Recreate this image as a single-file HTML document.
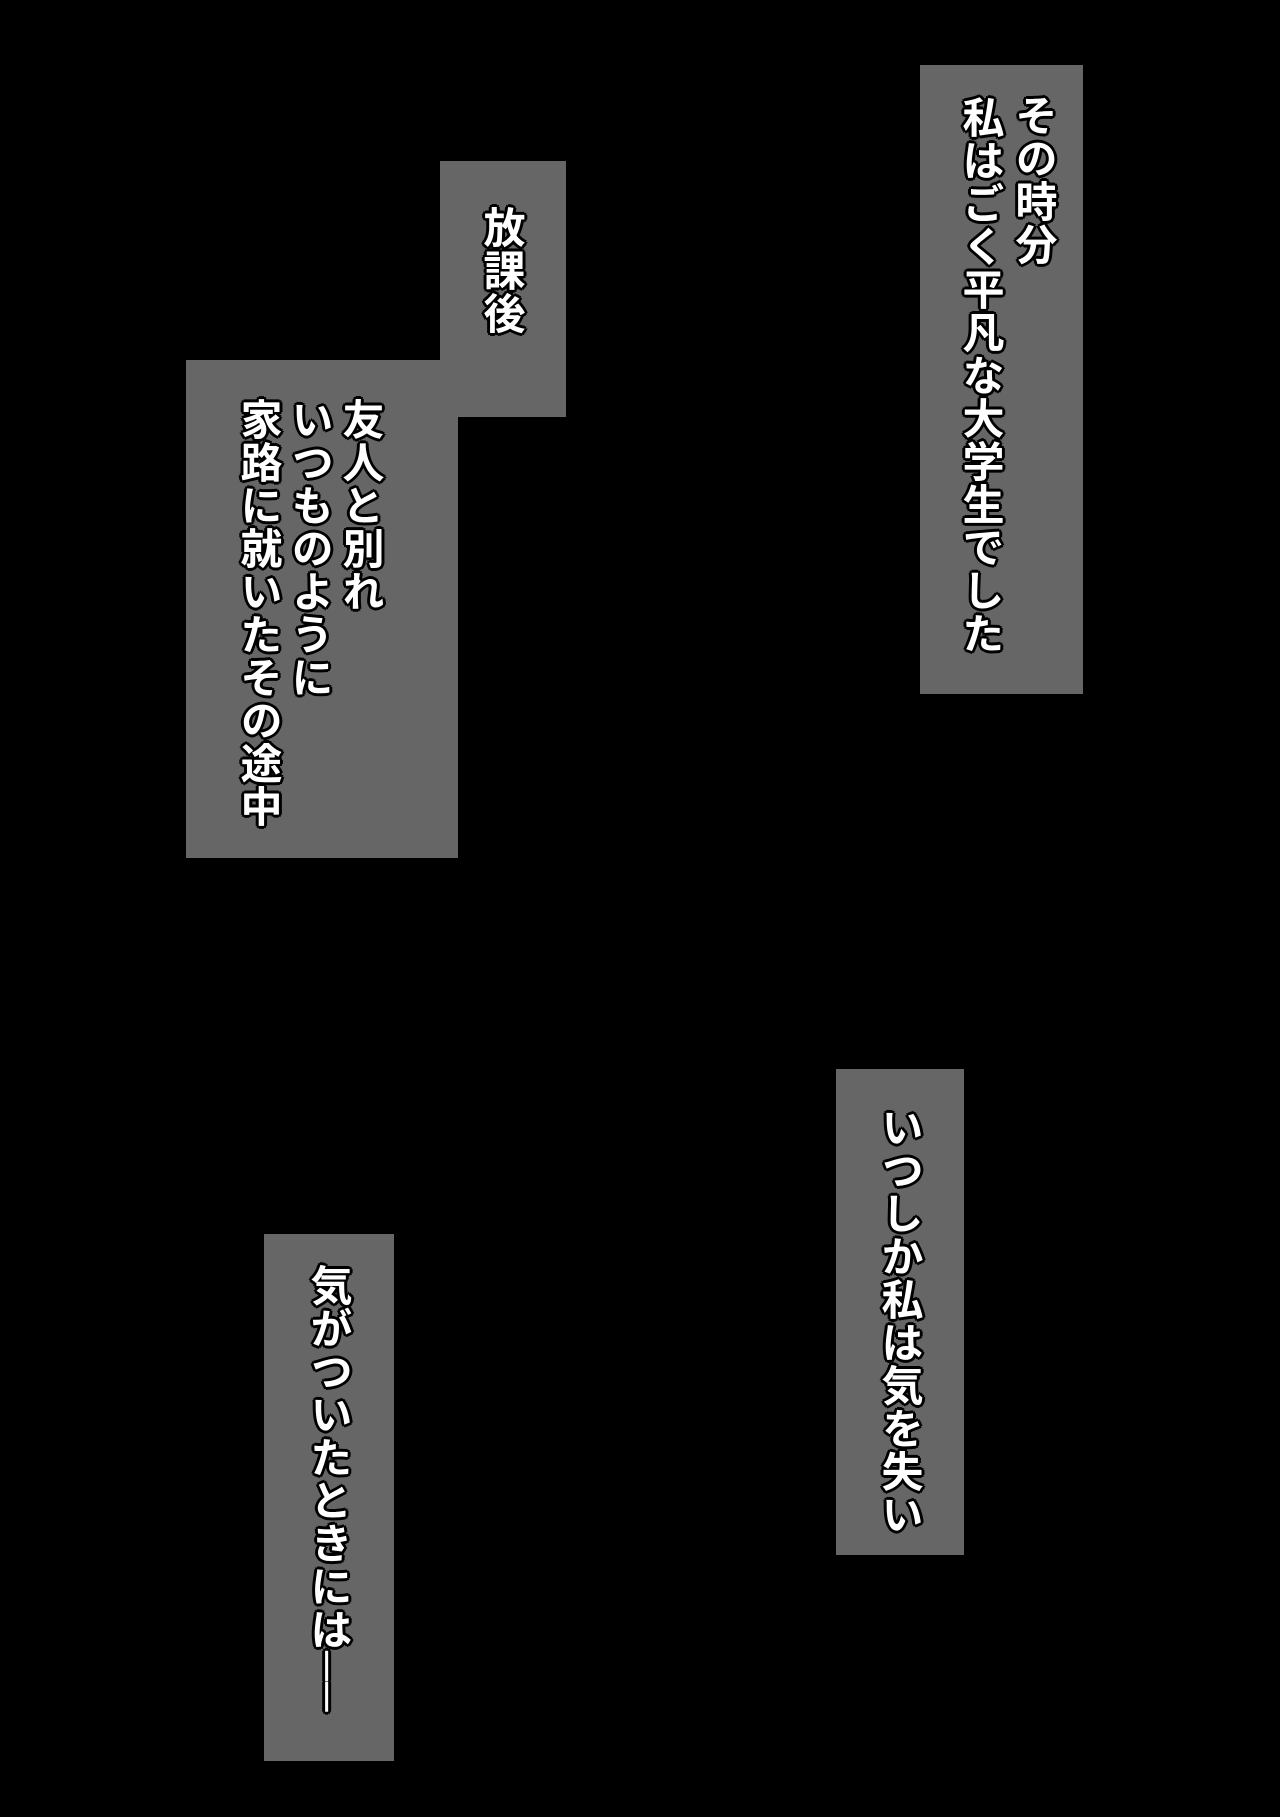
<!DOCTYPE html>
<html><head><meta charset="utf-8">
<style>
html,body{margin:0;padding:0;background:#000;}
body{width:1280px;height:1817px;position:relative;overflow:hidden;}
.b{position:absolute;background:#666;}
.t{position:absolute;writing-mode:vertical-rl;font-family:"Liberation Sans","Noto Sans CJK JP",sans-serif;font-weight:bold;font-size:42px;letter-spacing:1px;line-height:44px;width:44px;color:#fff;white-space:nowrap;
text-shadow:2px 0 0 #000,-2px 0 0 #000,0 2px 0 #000,0 -2px 0 #000,2px 2px 0 #000,-2px -2px 0 #000,2px -2px 0 #000,-2px 2px 0 #000,3px 0 0 #000,-3px 0 0 #000,0 3px 0 #000,0 -3px 0 #000;}
</style></head><body>
<div class="b" style="left:920px;top:65px;width:163px;height:629px"></div>
<div class="b" style="left:440px;top:161px;width:126px;height:256px"></div>
<div class="b" style="left:186px;top:360px;width:272px;height:498px"></div>
<div class="b" style="left:836px;top:1069px;width:128px;height:486px"></div>
<div class="b" style="left:264px;top:1234px;width:130px;height:527px"></div>

<div class="t" style="left:1011px;top:94px">その時分</div>
<div class="t" style="left:958px;top:96px">私はごく平凡な大学生でした</div>
<div class="t" style="left:479px;top:206px">放課後</div>
<div class="t" style="left:338px;top:398px">友人と別れ</div>
<div class="t" style="left:287px;top:398px">いつものように</div>
<div class="t" style="left:236px;top:398px">家路に就いたその途中</div>
<div class="t" style="left:877px;top:1106px">いつしか私は気を失い</div>
<div class="t" style="left:306px;top:1264px">気がついたときには──</div>
</body></html>
